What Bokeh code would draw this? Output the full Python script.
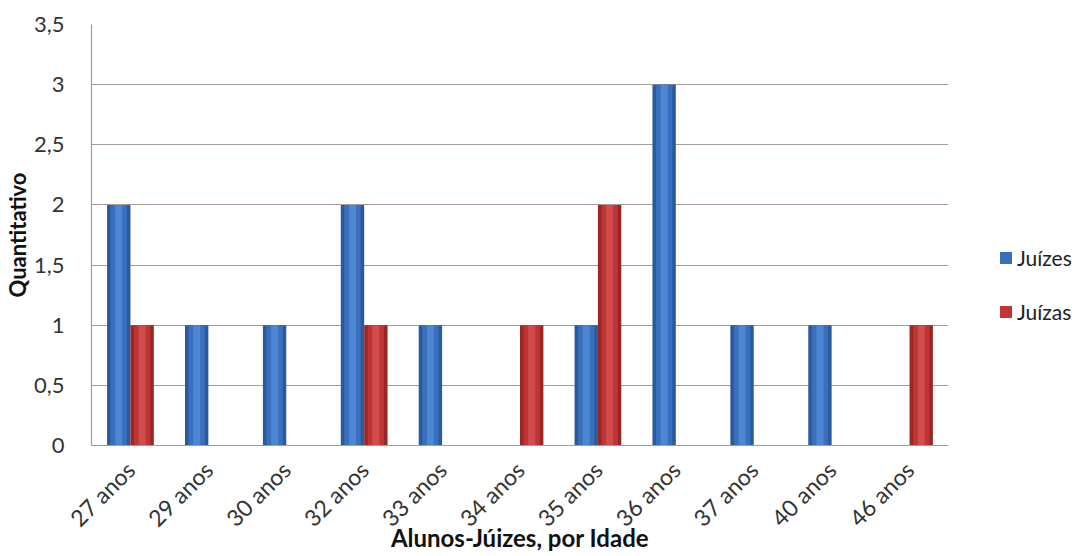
from bokeh.plotting import figure
from bokeh.models import ColumnDataSource, FixedTicker, Legend, LegendItem
from bokeh.transform import dodge
from bokeh.embed import file_html
from bokeh.resources import INLINE

categories = ["27 anos", "29 anos", "30 anos", "32 anos", "33 anos", "34 anos",
              "35 anos", "36 anos", "37 anos", "40 anos", "46 anos"]
juizes = [2, 1, 1, 2, 1, 0, 1, 3, 1, 1, 0]
juizas = [1, 0, 0, 1, 0, 1, 2, 0, 0, 0, 1]
y_ticks = [0, 0.5, 1, 1.5, 2, 2.5, 3, 3.5]
y_tick_labels = ["0", "0,5", "1", "1,5", "2", "2,5", "3", "3,5"]

src = ColumnDataSource(dict(cat=categories, juizes=juizes, juizas=juizas))

FONT = "Lato"
p = figure(x_range=categories, y_range=(0, 3.5), frame_width=857, frame_height=421,
           output_backend="svg", toolbar_location=None,
           min_border_left=81, min_border_top=24, min_border_bottom=100, min_border_right=128)
p.outline_line_color = None
p.background_fill_color = "white"

bw = 0.3
blue_layers = [("#2a5a9c", 1.0), ("#3a6fbd", 0.7), ("#4d86d2", 0.3)]
red_layers = [("#9a2626", 1.0), ("#bd3535", 0.7), ("#d24c4c", 0.3)]
rb = []
rr = []
for col, f in blue_layers:
    rb.append(p.vbar(x=dodge("cat", -0.15, range=p.x_range), top="juizes", width=bw * f,
                     source=src, fill_color=col, line_color=None))
for col, f in red_layers:
    rr.append(p.vbar(x=dodge("cat", 0.15, range=p.x_range), top="juizas", width=bw * f,
                     source=src, fill_color=col, line_color=None))

p.xgrid.grid_line_color = None
p.ygrid.grid_line_color = "#a89a95"
p.ygrid.grid_line_width = 1.2
p.yaxis.ticker = FixedTicker(ticks=y_ticks)
p.yaxis.major_label_overrides = {t: l for t, l in zip(y_ticks, y_tick_labels)}
p.yaxis.major_tick_line_color = None
p.yaxis.minor_tick_line_color = None
p.yaxis.axis_line_color = "#a89a95"
p.yaxis.axis_line_width = 1.2
p.yaxis.major_label_standoff = 21
p.yaxis.major_label_text_font = FONT
p.yaxis.major_label_text_font_size = "22px"
p.yaxis.major_label_text_color = "#333333"
p.yaxis.axis_label = "Quantitativo"
p.yaxis.axis_label_text_font = FONT
p.yaxis.axis_label_text_font_style = "bold"
p.yaxis.axis_label_text_font_size = "22px"
p.yaxis.axis_label_text_color = "#111111"
p.yaxis.axis_label_standoff = 0

p.xaxis.axis_line_color = "#a89a95"
p.xaxis.axis_line_width = 1.2
p.xaxis.major_tick_line_color = None
p.xaxis.minor_tick_line_color = None
p.xaxis.major_label_orientation = 0.785
p.xaxis.major_label_text_font = FONT
p.xaxis.major_label_text_font_size = "23px"
p.xaxis.major_label_text_color = "#333333"
p.xaxis.major_label_standoff = 14
p.xaxis.axis_label = "Alunos-Júizes, por Idade"
p.xaxis.axis_label_text_font = FONT
p.xaxis.axis_label_text_font_style = "bold"
p.xaxis.axis_label_text_font_size = "24px"
p.xaxis.axis_label_text_color = "#111111"
p.xaxis.axis_label_standoff = -22

legend = Legend(items=[LegendItem(label="Juízes", renderers=[rb[1]]),
                       LegendItem(label="Juízas", renderers=[rr[1]])],
                location=(50, 121), margin=0, border_line_color=None, background_fill_alpha=0,
                padding=0, spacing=29, glyph_width=15, glyph_height=15, label_height=20,
                label_text_font=FONT, label_text_font_size="21px",
                label_text_color="#222222", label_standoff=4)
p.add_layout(legend, "right")

open("out.html", "w").write(file_html(p, INLINE))
